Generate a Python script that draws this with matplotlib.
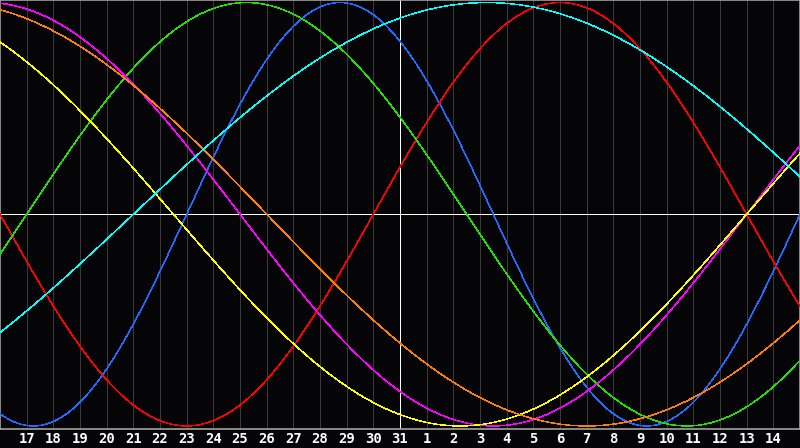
import datetime as dt
import numpy as np
import matplotlib
matplotlib.use("Agg")
import matplotlib.pyplot as plt

# biorhythm: birth date, the day shown in the middle, and the cycles
birth = dt.date(1931, 3, 5)
today = dt.date(2025, 1, 31)
days_before = 15
days_after = 15

cycle_days = [23, 28, 33, 38, 43, 48, 53]
cycle_colors = ["#1f6bff", "#ff0000", "#22e000", "#ff00ff", "#ffff00", "#ff8000", "#00ffff"]

start = today - dt.timedelta(days=days_before)
n_days = days_before + days_after
t0 = (start - birth).days

x = np.linspace(0, n_days, 1600)
dates = [start + dt.timedelta(days=i) for i in range(n_days + 1)]

fig = plt.figure(figsize=(8, 4.48), dpi=100, facecolor="#050508")
ax = fig.add_axes([0, 19.5 / 448, 1, 428.5 / 448])
ax.set_facecolor("#050508")

# day grid
for i in range(1, n_days):
    if i == days_before:
        continue
    ax.axvline(i, color="#3a3a3a", lw=0.6, zorder=1, antialiased=False)

ax.axhline(0, color="white", lw=0.6, zorder=2, antialiased=False)
ax.axvline(days_before, color="white", lw=0.6, zorder=2, antialiased=False)

for period, col in zip(cycle_days, cycle_colors):
    y = np.sin(2 * np.pi * (t0 + x) / period)
    ax.plot(x, y, color=col, lw=0.35, zorder=3, antialiased=False)

ax.set_xlim(0, n_days)
ax.set_ylim(-1.012, 1.012)
ax.set_xticks([])
ax.set_yticks([])
for s in ax.spines.values():
    s.set_color("#a0a0a0")
    s.set_linewidth(1.2)

for i in range(1, n_days):
    fig.text(i / n_days, 9.5 / 448, str(dates[i].day), color="white",
             ha="center", va="center", fontsize=10, fontweight="bold",
             family="DejaVu Sans Mono")

fig.savefig("out.png", dpi=100, facecolor=fig.get_facecolor())
